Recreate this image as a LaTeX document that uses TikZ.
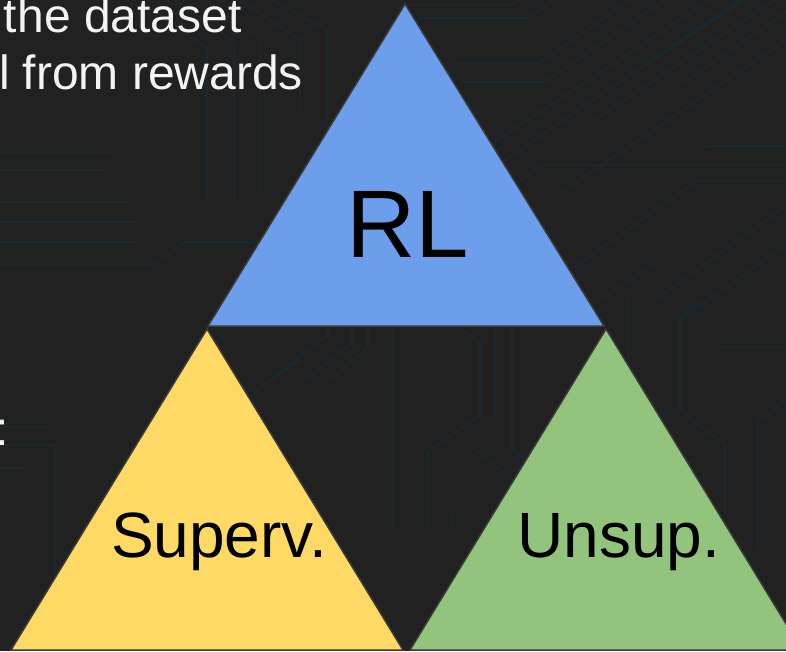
\documentclass[tikz,border=0pt]{standalone}
\usepackage{fontspec}
\setmainfont{Liberation Sans}
\definecolor{bgdark}{HTML}{212121}
\definecolor{trace}{HTML}{1B2830}
\definecolor{rlblue}{HTML}{6D9EEB}
\definecolor{supyellow}{HTML}{FFD966}
\definecolor{unsgreen}{HTML}{93C47D}
\definecolor{edgegray}{HTML}{3A3A3A}
\definecolor{lighttext}{HTML}{F3F3F3}
\tikzset{
  circuit/.style={draw=trace, line width=2pt},
  tri/.style={draw=edgegray, line width=1.5pt, line join=miter},
  bigword/.style={inner sep=0pt, outer sep=0pt, anchor=base, text=black},
  sidetext/.style={inner sep=0pt, outer sep=0pt, anchor=base west, text=lighttext, font=\fontsize{48}{57}\selectfont},
}
\begin{document}
\begin{tikzpicture}[x=1pt, y=-1pt]
  \useasboundingbox (0,0) rectangle (786,651);
  \clip (0,0) rectangle (786,651);
  \fill[bgdark] (0,0) rectangle (786,651);

  % faint circuit-board traces in the background
  \draw[circuit] (0,153) -- (111,153);
  \draw[circuit] (0,170) -- (106,170);
  \draw[circuit] (0,202) -- (133,202);
  \draw[circuit] (0,222) -- (139,222);
  \draw[circuit] (0,242) -- (139,242);
  \draw[circuit] (0,265) -- (153,265) -- (185,242) -- (262,242);
  \draw[circuit] (140,0) -- (207,48) -- (207,200);
  \draw[circuit] (175,0) -- (234,42) -- (234,200);
  \draw[circuit] (205,0) -- (260,38) -- (260,195);
  \draw[circuit] (240,0) -- (300,40) -- (300,110);
  \draw[circuit] (272,0) -- (327,30) -- (327,120);
  \draw[circuit] (253,393) -- (300,360);
  \draw[circuit] (0,427) -- (53,427);
  \draw[circuit] (0,445) -- (55,445) -- (55,575);
  \draw[circuit] (0,468) -- (26,468);
  \draw[circuit] (400,5) -- (510,5) -- (520,0);
  \draw[circuit] (420,18) -- (527,18) -- (555,0);
  \draw[circuit] (455,63) -- (540,63) -- (630,0);
  \draw[circuit] (463,82) -- (545,82) -- (665,0);
  \draw[circuit] (490,145) -- (710,0);
  \draw[circuit] (505,160) -- (740,0);
  \draw[circuit] (555,197) -- (786,40);
  \draw[circuit] (595,120) -- (775,0);
  \draw[circuit] (615,85) -- (745,0);
  \draw[circuit] (682,84) -- (786,12);
  \draw[circuit] (705,146) -- (786,146);
  \draw[circuit] (517,183) -- (540,165) -- (786,165);
  \draw[circuit] (573,268) -- (697,181) -- (786,181);
  \draw[circuit] (600,300) -- (660,260);
  \draw[circuit] (655,300) -- (786,206);
  \draw[circuit] (680,320) -- (786,245);
  \draw[circuit] (328,328) -- (328,335) -- (270,380);
  \draw[circuit] (352,328) -- (352,343) -- (305,380);
  \draw[circuit] (368,328) -- (368,348) -- (330,380);
  \draw[circuit] (393,328) -- (393,530);
  \draw[circuit] (460,328) -- (480,343) -- (480,415) -- (428,452) -- (428,530);
  \draw[circuit] (495,328) -- (495,417);
  \draw[circuit] (512,328) -- (512,450) -- (540,468);
  \draw[circuit] (473,448) -- (510,478);
  \draw[circuit] (452,510) -- (452,530);
  \draw[circuit] (628,300) -- (628,360);
  \draw[circuit] (703,300) -- (680,316) -- (680,410) -- (725,445) -- (725,510);
  \draw[circuit] (718,347) -- (786,347);
  \draw[circuit] (786,400) -- (758,422) -- (758,550);

  % text running off the left edge
  \node[sidetext] (lineA) at (4,32) {the dataset};
  \node[sidetext] (lineB) at (-1,89) {l from rewards};
  \node[sidetext] (colon) at (-5,445) {:};

  % the three triangles
  \filldraw[tri, fill=rlblue] (405,4) -- (604,326) -- (208,326) -- cycle;
  \filldraw[tri, fill=supyellow] (207,329) -- (403,650) -- (11,650) -- cycle;
  \filldraw[tri, fill=unsgreen] (606,329) -- (802,650) -- (410,650) -- cycle;

  \node[bigword, font=\fontsize{96}{110}\selectfont] (rl) at (408,257) {RL};
  \node[bigword, font=\fontsize{64}{76}\selectfont] (sup) at (219,557) {Superv.};
  \node[bigword, font=\fontsize{64}{76}\selectfont] (uns) at (619,557) {Unsup.};
\end{tikzpicture}
\end{document}
